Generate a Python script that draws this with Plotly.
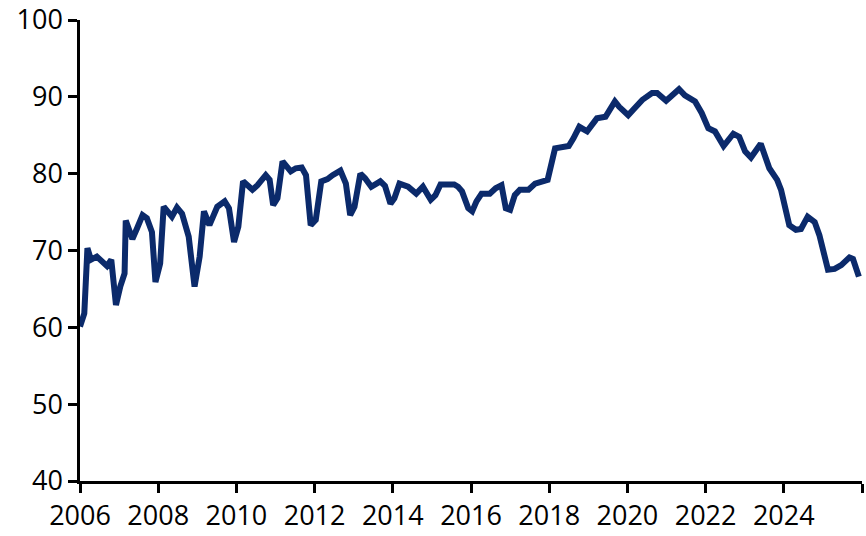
import plotly.graph_objects as go

# Values (decimal years, index level)
years = [
    2006.00, 2006.11, 2006.19, 2006.28, 2006.43, 2006.56, 2006.69, 2006.80, 2006.92,
    2007.03, 2007.14, 2007.17, 2007.34, 2007.46, 2007.60, 2007.71, 2007.84, 2007.93,
    2008.05, 2008.14, 2008.35, 2008.48, 2008.61, 2008.78, 2008.93,
    2009.06, 2009.17, 2009.31, 2009.51, 2009.70, 2009.81, 2009.94,
    2010.05, 2010.17, 2010.41, 2010.54, 2010.75, 2010.85, 2010.94,
    2011.05, 2011.18, 2011.39, 2011.52, 2011.67, 2011.78, 2011.90,
    2012.03, 2012.17, 2012.33, 2012.46, 2012.66, 2012.80, 2012.91,
    2013.02, 2013.17, 2013.29, 2013.45, 2013.68, 2013.80, 2013.94,
    2014.04, 2014.17, 2014.39, 2014.60, 2014.77, 2014.97,
    2015.09, 2015.22, 2015.41, 2015.57, 2015.67, 2015.77, 2015.93,
    2016.03, 2016.14, 2016.27, 2016.48, 2016.63, 2016.78, 2016.89,
    2017.00, 2017.12, 2017.25, 2017.47, 2017.64, 2017.83, 2017.96,
    2018.15, 2018.32, 2018.50, 2018.62, 2018.77, 2018.97,
    2019.11, 2019.22, 2019.44, 2019.68, 2019.79,
    2020.02, 2020.16, 2020.38, 2020.63, 2020.76, 2020.99,
    2021.15, 2021.32, 2021.47, 2021.73, 2021.90,
    2022.07, 2022.24, 2022.46, 2022.71, 2022.86,
    2023.01, 2023.16, 2023.41, 2023.63, 2023.83, 2023.93,
    2024.14, 2024.31, 2024.44, 2024.61, 2024.79, 2024.91,
    2025.13, 2025.30, 2025.47, 2025.68, 2025.77, 2025.92,
]
values = [
    60.1, 61.8, 70.3, 68.8, 69.2, 68.6, 68.0, 68.8, 62.9,
    65.3, 67.0, 73.9, 71.5, 72.9, 74.6, 74.2, 72.4, 65.9,
    68.3, 75.7, 74.4, 75.6, 74.8, 71.8, 65.3,
    69.2, 75.1, 73.3, 75.7, 76.4, 75.5, 71.1,
    73.1, 79.0, 77.9, 78.5, 79.8, 79.2, 75.9,
    76.8, 81.6, 80.3, 80.7, 80.8, 79.8, 73.3,
    74.0, 79.0, 79.3, 79.8, 80.4, 78.7, 74.6,
    75.7, 80.0, 79.4, 78.3, 79.0, 78.4, 76.1,
    76.8, 78.7, 78.3, 77.4, 78.3, 76.6,
    77.2, 78.6, 78.6, 78.6, 78.3, 77.7, 75.5,
    75.1, 76.4, 77.4, 77.4, 78.1, 78.5, 75.5,
    75.3, 77.2, 77.9, 77.9, 78.7, 79.0, 79.2,
    83.3, 83.5, 83.6, 84.6, 86.1, 85.5,
    86.6, 87.2, 87.4, 89.4, 88.7,
    87.6, 88.4, 89.6, 90.5, 90.5, 89.5,
    90.2, 91.0, 90.2, 89.4, 87.9,
    85.9, 85.5, 83.6, 85.2, 84.8,
    82.9, 82.1, 83.9, 80.7, 79.2, 77.9,
    73.3, 72.7, 72.8, 74.4, 73.7, 72.0,
    67.5, 67.6, 68.1, 69.1, 68.9, 66.6,
]

x_ticks = list(range(2006, 2027, 2))
x_labels = [str(y) for y in range(2006, 2025, 2)] + [""]

fig = go.Figure()
fig.add_trace(go.Scatter(
    x=years, y=values, mode="lines",
    line=dict(color="#0b2a6b", width=6),
    showlegend=False,
))

axis_common = dict(
    showgrid=False, zeroline=False,
    showline=True, linecolor="black", linewidth=2.5,
    ticks="outside", ticklen=9, tickwidth=2.5, tickcolor="black",
    tickfont=dict(family="Open Sans", size=27, color="black"),
    ticklabeloverflow="allow", automargin=False,
)

fig.update_layout(
    width=866, height=536,
    margin=dict(l=80, r=4, t=20, b=55),
    plot_bgcolor="white", paper_bgcolor="white",
    xaxis=dict(range=[2006, 2026], tickvals=x_ticks, ticktext=x_labels, **axis_common),
    yaxis=dict(range=[40, 100], tickvals=list(range(40, 101, 10)), **axis_common),
)

# drop the default 8px page margin so the figure fills the window
fig.write_html("out.html", config={"displayModeBar": False},
               post_script="document.body.style.margin='0';")
